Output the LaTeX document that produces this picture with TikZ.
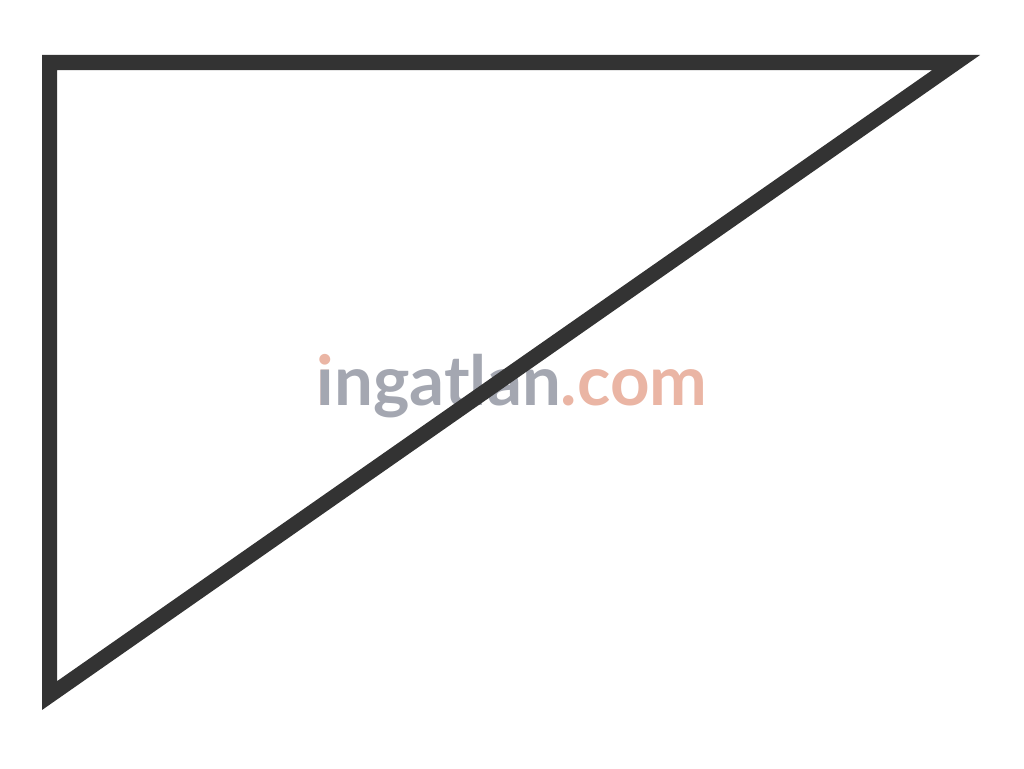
\documentclass[tikz,border=0pt]{standalone}
\usepackage{fontspec}
\setmainfont{Lato}
\usepackage{tikz}
\definecolor{edgegray}{RGB}{51,51,51}
\definecolor{markgray}{RGB}{164,167,177}
\definecolor{marksalmon}{RGB}{234,181,164}
\begin{document}
\begin{tikzpicture}[x=1pt, y=-1pt, side/.style = {draw=edgegray, line width=15pt, line join=miter}, logostyle/.style = {font=\fontsize{69}{69}\selectfont\bfseries, inner sep=0pt, anchor=base}]
    \useasboundingbox (0,0) rectangle (1024,768);
    \node[logostyle] (logo) at (512,405) {\rlap{\color{marksalmon}i}{\color{markgray}ı}\color{markgray}ngatlan\color{marksalmon}.com};

    \coordinate (A) at (49.5,62.5);
    \coordinate (B) at (956.2,62.5);
    \coordinate (C) at (49.5,695.6);

\draw[side] (A) -- (B) -- (C) -- cycle;
\end{tikzpicture}
\end{document}
